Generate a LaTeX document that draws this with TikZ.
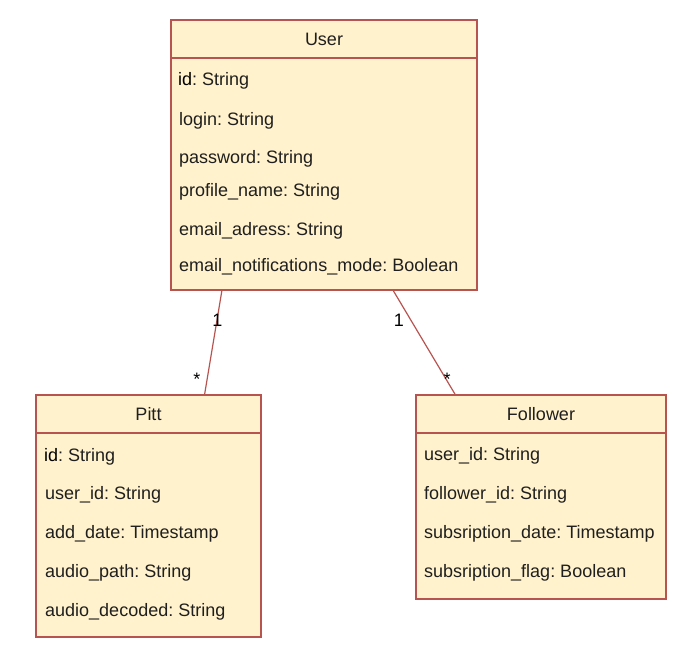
\documentclass[tikz,border=0pt]{standalone}
\usepackage{fontspec}
\setmainfont{Liberation Sans}
\usepackage{tikz}
\usetikzlibrary{positioning}
\definecolor{classfill}{HTML}{FFF2CC}
\definecolor{classline}{HTML}{B85450}
\definecolor{fieldtext}{HTML}{1F1F1F}
\frenchspacing

\begin{document}
\begin{tikzpicture}[x=1pt, y=-1pt]
    \tikzstyle{classbox} = [draw=classline, line width=1.3pt, fill=classfill, rectangle, inner sep=0pt]
    \tikzstyle{header} = [classbox, minimum height=38pt, text=fieldtext, font=\fontsize{18}{21}\selectfont]
    \tikzstyle{field} = [anchor=base west, inner sep=0pt, text=fieldtext, font=\fontsize{18}{21}\selectfont]
    \tikzstyle{assoc} = [draw=classline, line width=1.2pt]
    \tikzstyle{mult} = [inner sep=0pt, font=\fontsize{18}{21}\selectfont]

    \useasboundingbox (0,0) rectangle (694,657);

    % Classe User
    \node[classbox, minimum width=306pt, minimum height=270pt] (user) at (324,155) {};
    \node[header, minimum width=306pt] (userHead) at (324,39) {User};
    \node[field] (userId) at (178,85) {\textcolor{black}{id}: String};
    \node[field] (userLogin) at (179,125) {login: String};
    \node[field] (userPass) at (179,163) {password: String};
    \node[field] (userProfile) at (179,196.5) {profile\_name: String};
    \node[field] (userMail) at (179,235) {email\_adress: String};
    \node[field] (userNotif) at (179,271) {email\_notifications\_mode: Boolean};

    % Classe Pitt
    \node[classbox, minimum width=225pt, minimum height=242pt] (pitt) at (148.5,516) {};
    \node[header, minimum width=225pt] (pittHead) at (148.5,414) {Pitt};
    \node[field] (pittId) at (44,461.5) {\textcolor{black}{id}: String};
    \node[field] (pittUser) at (45,499.5) {user\_id: String};
    \node[field] (pittDate) at (45,538.5) {add\_date: Timestamp};
    \node[field] (pittPath) at (45,577) {audio\_path: String};
    \node[field] (pittDecoded) at (45,616) {audio\_decoded: String};

    % Classe Follower
    \node[classbox, minimum width=250pt, minimum height=204pt] (follower) at (541,497) {};
    \node[header, minimum width=250pt] (followerHead) at (541,414) {Follower};
    \node[field] (follUser) at (424,460.5) {user\_id: String};
    \node[field] (follId) at (424,499.5) {follower\_id: String};
    \node[field] (follDate) at (424,538.5) {subsription\_date: Timestamp};
    \node[field] (follFlag) at (424,577) {subsription\_flag: Boolean};

    % Associazioni 1 - *
    \coordinate (userPittEnd) at (222,290);
    \coordinate (pittUserEnd) at (204.5,395);
    \coordinate (userFollEnd) at (393.5,291);
    \coordinate (follUserEnd) at (455.5,395);
    \draw[assoc] (userPittEnd) -- (pittUserEnd);
    \draw[assoc] (userFollEnd) -- (follUserEnd);
    \node[mult] (multPittOne) at (217.5,320) {1};
    \node[mult] (multPittMany) at (197,379) {*};
    \node[mult] (multFollOne) at (399,320) {1};
    \node[mult] (multFollMany) at (447,379) {*};
\end{tikzpicture}
\end{document}
